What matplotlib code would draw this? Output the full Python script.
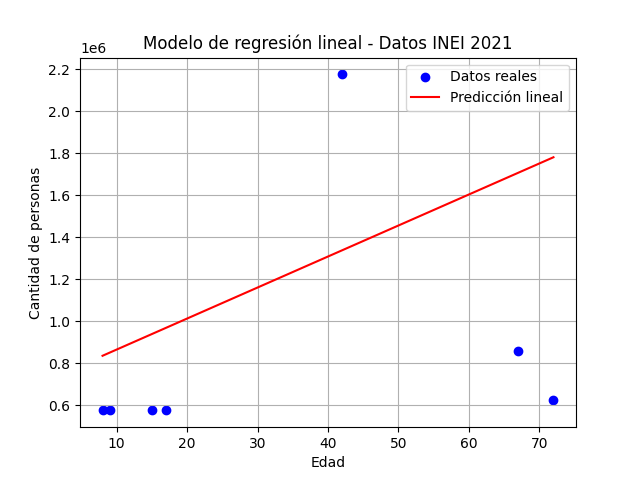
import matplotlib
matplotlib.use("Agg")
import matplotlib.pyplot as plt
import numpy as np

edad = np.array([8, 9, 15, 17, 42, 67, 72])
personas = np.array([575000, 575000, 578000, 575000, 2175000, 860000, 625000])
pendiente = 14770.0
intercepto = 717000.0

pred = intercepto + pendiente * edad

fig, ax = plt.subplots(figsize=(6.4, 4.8), dpi=100)
ax.scatter(edad, personas, color="blue", label="Datos reales")
ax.plot(edad, pred, color="red", label="Predicción lineal")
ax.set_title("Modelo de regresión lineal - Datos INEI 2021")
ax.set_xlabel("Edad")
ax.set_ylabel("Cantidad de personas")
ax.grid(True)
ax.legend()
fig.savefig("out.png")
